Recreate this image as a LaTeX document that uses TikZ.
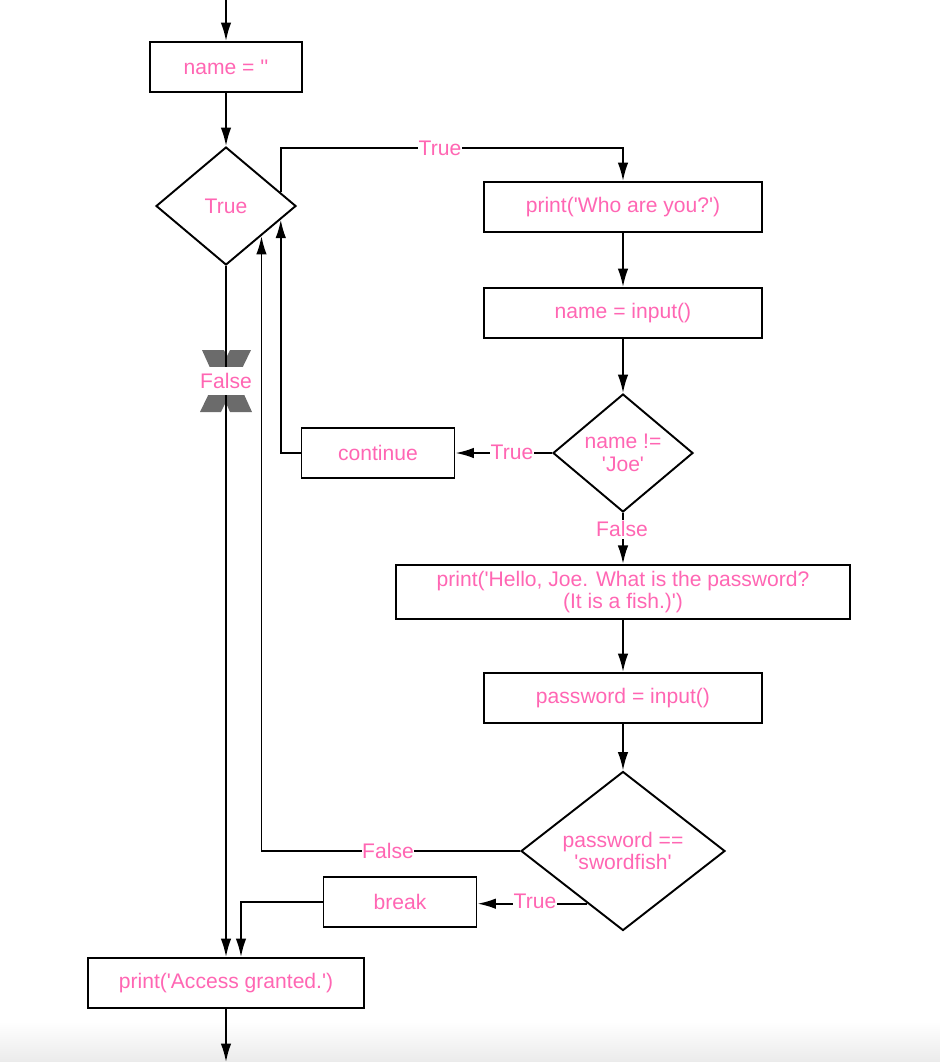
\documentclass[tikz,border=0pt]{standalone}
\usepackage{fontspec}
\setmainfont{Liberation Sans}
\usetikzlibrary{arrows.meta,shapes.geometric}
\definecolor{hotpink}{HTML}{FF66B3}
\definecolor{xgrey}{HTML}{6B6B6B}
\newcommand{\sq}{\textquotesingle}
\tikzset{
  flow/.style={line width=1.1pt,-{Latex[length=10.5pt,width=6pt]}},
  stmt/.style={draw,line width=1.1pt,minimum height=1cm,text=hotpink,
    font=\fontsize{12}{13}\selectfont,align=center},
  test/.style={draw,diamond,line width=1.1pt,inner sep=0pt,text=hotpink,
    font=\fontsize{12}{13}\selectfont,align=center},
  lbl/.style={fill=white,inner xsep=0.3pt,inner ysep=1pt,text=hotpink,font=\fontsize{12}{13}\selectfont}
}

\begin{document}
\begin{tikzpicture}[x=0.02cm,y=-0.02cm]
\useasboundingbox (0,0) rectangle (940,1062);
\shade[top color=white,bottom color=black!8] (0,1022) rectangle (940,1062);

\node[stmt,minimum width=3.04cm] (init) at (226,67) {name = \sq\sq};
\node[test,minimum width=2.8cm,minimum height=2.36cm] (loop) at (226,206) {True};
\node[stmt,minimum width=5.56cm] (who) at (623,207) {print(\sq Who are you?\sq)};
\node[stmt,minimum width=5.56cm] (getname) at (623,313) {name = input()};
\node[test,minimum width=2.8cm,minimum height=2.36cm] (isjoe) at (623,453) {name !=\\\sq Joe\sq};
\node[stmt,minimum width=3.06cm] (cont) at (378,453) {continue};
\node[stmt,minimum width=9.08cm] (hello) at (623,592) {print(\sq Hello, Joe. What is the password?\\(It is a fish.)\sq)};
\node[stmt,minimum width=5.56cm] (getpw) at (623,698) {password = input()};
\node[test,minimum width=4.08cm,minimum height=2.94cm] (ispw) at (623,851) {password ==\\\sq swordfish\sq};
\node[stmt,minimum width=3.06cm] (brk) at (400,902) {break};
\node[stmt,minimum width=5.52cm] (grant) at (226,983) {print(\sq Access granted.\sq)};

\coordinate (top) at (226,0);
\coordinate (bottom) at (226,1062);
\coordinate (ttrue) at (440,148);

\draw[flow] (top) -- (init);
\draw[flow] (init) -- (loop);
\draw[flow] (loop.14) |- (ttrue) -| (who.north);
\draw[flow] (who) -- (getname);
\draw[flow] (getname) -- (isjoe);
\draw[flow] (isjoe.west) -- (cont.east);
\draw[flow] (cont.west) -| (loop.-14);
\draw[flow] (isjoe.south) -- (hello.north);
\draw[flow] (hello) -- (getpw);
\draw[flow] (getpw) -- (ispw);
\draw[flow] (ispw.west) -| (loop.south east);
\draw[flow] (ispw.236.6) -- (ispw.236.6 -| brk.east);
\draw[flow] (brk.west) -| ([xshift=0.3cm]grant.north);
\draw[flow] (grant) -- (bottom);

% the crossed-out False branch
\fill[xgrey] (202,350) -- (224,350) -- (252,412) -- (230,412) -- cycle;
\fill[xgrey] (230,350) -- (251,350) -- (221,412) -- (200,412) -- cycle;
\draw[flow] (loop.south) -- (grant.north);

\node[lbl] (ltrue) at (ttrue) {True};
\node[lbl,inner ysep=3.5pt] (lexit) at (226,381) {False};
\node[lbl] (lcont) at (512,452) {True};
\node[lbl] (lnotjoe) at (622,529) {False};
\node[lbl] (lwrong) at (388,851) {False};
\node[lbl] (lbreak) at (535,901) {True};
\end{tikzpicture}
\end{document}
